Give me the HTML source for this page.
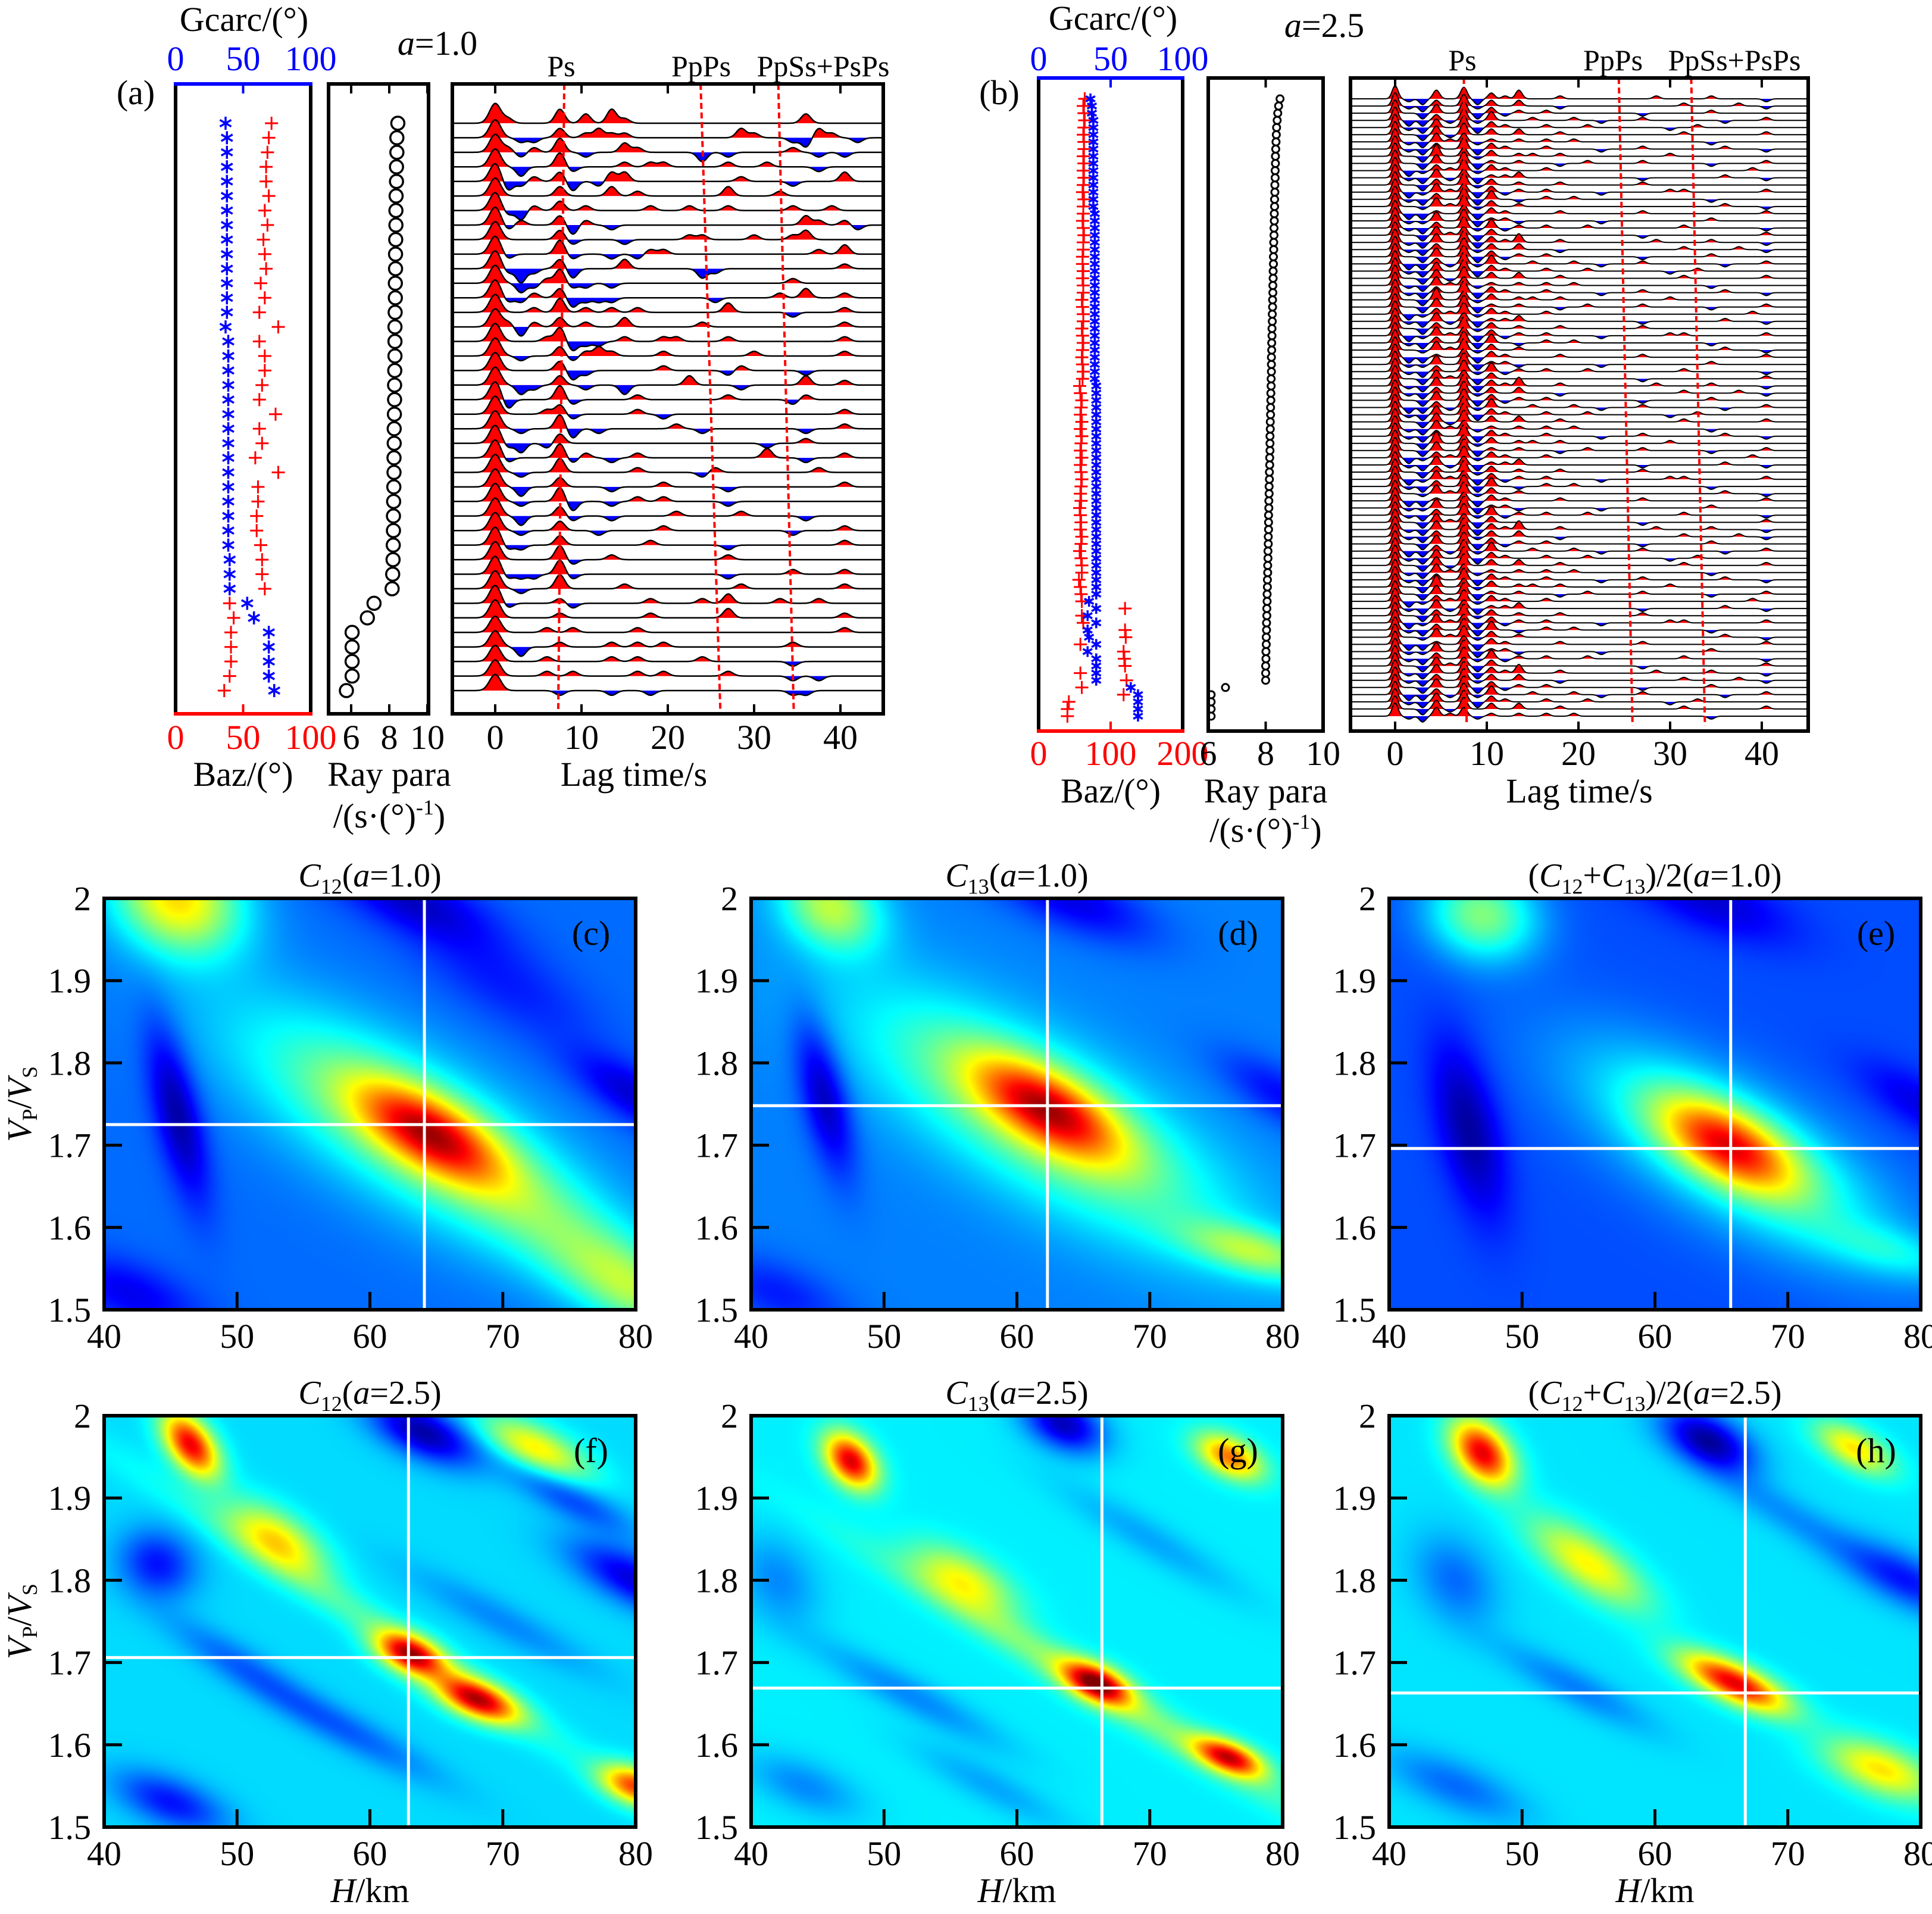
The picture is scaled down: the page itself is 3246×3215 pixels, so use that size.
<!DOCTYPE html>
<html><head><meta charset="utf-8">
<style>
html,body{margin:0;padding:0;background:#fff;}
#wrap{position:relative;width:3246px;height:3215px;overflow:hidden;background:#fff;}
canvas{position:absolute;}
svg{position:absolute;left:0;top:0;}
text{font-family:"Liberation Serif","DejaVu Serif",serif;}
</style></head>
<body>
<div id="wrap">
<svg id="svg" width="3246" height="3215" viewBox="0 0 3246 3215"></svg>
</div>
<script>
// ---------------- DATA: panel (a) ----------------
const gcarcA=[37,38,38,38,38,38,38,38,38,38,38,38,38,38,37,39,39,39,39,39,39,39,39,39,39,39,39,39,39,39,40,40,40,53,58,69,69,69,69,73];
const bazA=[71,69,68,67,67,69,66,68,65,66,67,63,66,62,76,62,66,66,64,62,74,62,64,59,76,61,61,60,60,63,64,64,66,40,43,41,41,41,40,36];
const rayA=[8.45,8.4,8.4,8.38,8.38,8.36,8.35,8.35,8.34,8.33,8.33,8.32,8.32,8.31,8.3,8.3,8.3,8.29,8.28,8.28,8.27,8.26,8.26,8.25,8.25,8.24,8.23,8.22,8.22,8.21,8.2,8.18,8.15,7.2,6.85,6.05,6.05,6.05,6.05,5.75];
const mainA=[1.1,1,1,1,1,1,1,1,1,1,1,1,1,1,1,1,1,1,1,1,1,1,1,1,1,1,1,1,1,1,1,1,1,1,1,0.9,0.9,0.9,0.9,0.9];
// amplitude codes at lag 1.5,3,4.5,...s ('5' = zero)
const rfA=[
"6555857586555555555555575555",
"5445756766555555557655437654",
"6465854557655553545555654545",
"5355845556566555565565554555",
"3465735477555555556555455575",
"5555755575655555575556555555",
"4365756555565565565555655655",
"4655736545555555555555576564",
"5555745554555566555655675555",
"4555845545466555555555556575",
"4245735557555553455555555565",
"5346844545555555555555655555",
"4465734445555555455556575565",
"5565856565655555575555455565",
"6365756557555556555555555565",
"5556834456556655565555555565",
"5455746765556555555655555565",
"5555734555556555546555545555",
"5345754553555575554555575565",
"3555845555655555565555465555",
"5556745555654555555555555565",
"5455835455555654555555545565",
"4354755555555555555545565555",
"4555846545655555555575545565",
"5455855555655554655555556555",
"5355755545556555545555555565",
"5455835545656555545555555555",
"5355745545555655556555545555",
"5455755455556555555555455565",
"4455755555565555545555555565",
"5555845565555555565555555555",
"4445845555555555545555655565",
"5455855556555555556555555565",
"4555645555565556575556556555",
"5555655555565555575555555565",
"5556565555655555555555555565",
"5355655565656555555555655555",
"5556555565655556555555455555",
"5556565555656555565555454555",
"5555455545545555555555445555"];
// ---------------- DATA: panel (b) ----------------
const gcarcB=[36,37,37,38,38,38,38,38,38,38,38,38,38,38,38,38,39,39,39,39,39,39,39,39,39,39,39,39,39,39,39,39,39,39,39,39,39,39,39,39,40,40,40,40,40,40,40,40,40,40,40,40,40,40,40,40,40,40,40,40,40,40,40,40,40,40,40,40,40,40,35,40,34,40,34,35,40,34,40,40,40,40,64,69,69,69,69];
const bazB=[64,62,63,64,63,62,63,63,62,63,62,63,62,61,63,62,62,61,62,63,62,62,61,61,62,61,62,62,60,61,62,62,60,61,62,61,60,61,62,61,57,58,60,59,58,60,58,60,59,58,60,58,59,60,59,58,59,57,58,59,58,60,59,57,59,60,60,56,58,59,60,120,60,62,120,121,58,118,119,120,58,122,60,118,42,40,40];
const rayB=[8.5,8.45,8.42,8.4,8.38,8.37,8.36,8.35,8.34,8.34,8.33,8.33,8.32,8.32,8.31,8.31,8.3,8.3,8.29,8.29,8.28,8.28,8.27,8.27,8.26,8.26,8.25,8.25,8.24,8.24,8.23,8.23,8.22,8.22,8.21,8.21,8.2,8.2,8.2,8.19,8.19,8.18,8.18,8.17,8.17,8.16,8.16,8.15,8.15,8.15,8.14,8.14,8.13,8.13,8.12,8.12,8.11,8.11,8.1,8.1,8.1,8.09,8.09,8.08,8.08,8.07,8.07,8.06,8.06,8.05,8.05,8.04,8.04,8.03,8.03,8.02,8.02,8.01,8.01,8.0,8.0,8.0,6.6,6.1,6.1,6.1,6.1];
const rfBpatterns=[
"4385937685565555556555655545",
"4375947575545555555565556545",
"5385937465655555545555655555",
"3374948556556545565555545565",
"4385937655655655555456555555",
"5384957575565555555565555565",
"4386846565656555555555455555",
"4375937655655545565555565545",
"5395847566565555555655555555",
"5385936565545655565555455565",
"3476947655655555555555555655",
"4384836675555555545555565545",
"5375947565565555565555555555",
"3486837465655545555665555565",
"4375938545656555555555455555",
"5486947565555555555555565545",
"3365837655565555565555555565",
"4485936645555545555555655555",
"4375948465655655555565555545",
"5386837555555555545555555565"];
// ---------------- DATA: heatmaps ----------------
const hmTitles=["C12(a=1.0)","C13(a=1.0)","(C12+C13)/2(a=1.0)","C12(a=2.5)","C13(a=2.5)","(C12+C13)/2(a=2.5)"];
const hmLetters=["(c)","(d)","(e)","(f)","(g)","(h)"];
const hmBase=[0.23,0.25,0.2,0.34,0.36,0.35];
const hmBestH=[64.1,62.3,65.7,62.9,66.4,66.8];
const hmBestR=[1.725,1.748,1.696,1.706,1.669,1.663];
// blobs: [H, Vp/Vs, amp, sigmaAlong, sigmaCross, angleDeg]
const blobsC=[[64.5,1.715,0.45,0.12,0.055,-40],[63,1.72,0.28,0.3,0.11,-40],[76,1.58,0.12,0.2,0.07,-40],[80,1.52,0.2,0.12,0.06,-40],[45.5,2.0,0.42,0.1,0.08,-60],[45.5,1.74,-0.2,0.15,0.03,-80],[63,2.0,-0.15,0.12,0.05,-30],[80,1.76,-0.15,0.1,0.04,-40],[42,1.52,-0.12,0.1,0.05,-30],[70,1.9,-0.08,0.15,0.06,-40]];
const blobsD=[[62.3,1.745,0.45,0.12,0.055,-40],[62,1.73,0.28,0.3,0.11,-40],[46,1.99,0.3,0.08,0.06,-60],[45.5,1.76,-0.2,0.13,0.03,-80],[64,2.0,-0.15,0.12,0.05,-30],[80,1.76,-0.12,0.1,0.04,-40],[78,1.57,0.25,0.1,0.04,-20],[42,1.52,-0.1,0.1,0.05,-30]];
const blobsE=[[65.5,1.7,0.45,0.11,0.055,-40],[66,1.69,0.26,0.25,0.1,-40],[47,1.98,0.3,0.08,0.07,-60],[46,1.72,-0.17,0.15,0.04,-80],[64,2.0,-0.12,0.12,0.05,-30],[80,1.75,-0.1,0.1,0.04,-40],[78,1.57,0.12,0.1,0.04,-20]];
const blobsF=[[46.5,1.965,0.55,0.06,0.03,-65],[53,1.85,0.3,0.08,0.04,-45],[63,1.71,0.55,0.05,0.03,-35],[68,1.655,0.55,0.06,0.03,-30],[80,1.55,0.45,0.05,0.03,-30],[72.5,1.96,0.3,0.08,0.035,-35],[64,1.98,-0.3,0.08,0.04,-35],[44,1.82,-0.2,0.06,0.05,-70],[80,1.8,-0.25,0.1,0.04,-35],[45,1.53,-0.2,0.08,0.04,-30],[75,1.9,-0.15,0.1,0.03,-35],[58,1.62,-0.12,0.15,0.03,-35],[60,1.75,0.1,0.4,0.03,-40],[50,1.7,-0.1,0.12,0.03,-40],[70,1.75,-0.08,0.15,0.03,-35]];
const blobsG=[[47.5,1.945,0.55,0.05,0.03,-65],[56,1.8,0.25,0.08,0.04,-40],[66,1.675,0.55,0.05,0.028,-35],[76,1.585,0.5,0.05,0.025,-30],[76,1.95,0.4,0.05,0.03,-40],[63.5,1.99,-0.3,0.06,0.04,-40],[42,1.8,-0.1,0.08,0.05,-70],[66,1.67,0.15,0.35,0.03,-38],[52,1.66,-0.1,0.15,0.03,-35],[44,1.55,-0.1,0.08,0.04,-30],[70,1.85,-0.07,0.15,0.03,-38],[58,1.55,-0.07,0.12,0.03,-35]];
const blobsH=[[47,1.955,0.55,0.06,0.035,-65],[55,1.82,0.28,0.1,0.04,-45],[66,1.675,0.55,0.08,0.03,-33],[77,1.57,0.3,0.08,0.04,-30],[75,1.96,0.3,0.06,0.03,-40],[64,1.97,-0.32,0.07,0.04,-40],[79,1.8,-0.2,0.1,0.04,-35],[45,1.8,-0.12,0.08,0.05,-70],[45,1.55,-0.12,0.1,0.04,-30],[54,1.67,-0.1,0.12,0.03,-35],[70,1.88,-0.08,0.14,0.03,-38]];
const hmBlobs=[blobsC,blobsD,blobsE,blobsF,blobsG,blobsH];
const hmXTicks=[40,50,60,70,80];
const hmYTicks=[1.5,1.6,1.7,1.8,1.9,2];

// ---------------- helpers ----------------
const NS="http://www.w3.org/2000/svg";
const svg=document.getElementById('svg');
const wrap=document.getElementById('wrap');
function el(tag,attrs,parent){const e=document.createElementNS(NS,tag);for(const k in attrs)e.setAttribute(k,attrs[k]);(parent||svg).appendChild(e);return e;}
function txt(x,y,s,size,anchor,fill,parent){const t=el('text',{x:x,y:y,'font-size':size,'text-anchor':anchor||'middle',fill:fill||'#000'},parent);t.textContent=s;return t;}
function G(t,c,s){const d=(t-c)/s;return Math.exp(-0.5*d*d);}

// ---------------- receiver-function panel ----------------
function rfPanel(cfg){
  const g=el('g',{});
  
  
  const B=cfg.box;
  const tx=t=>cfg.t0x+t*cfg.pxs;
  const tmin=(B.x0-cfg.t0x)/cfg.pxs, tmax=(B.x1-cfg.t0x)/cfg.pxs;
  const n=cfg.rows;
  const rowY=i=>cfg.ry0+i*(cfg.ry1-cfg.ry0)/(n-1);
  for(let i=0;i<n;i++){
    const pat=cfg.pattern(i);
    const yb=rowY(i);
    const pts=[];
    for(let t=tmin;t<=tmax+1e-6;t+=0.06){
      let f=cfg.main(i)*G(t,0,cfg.sig0);
      for(let k=0;k<29;k++){const c=pat.charAt(k);const d=c?(+c-5):0;if(d)f+=d*cfg.unit*G(t,1.5*(k+1),cfg.sig);}
      pts.push([tx(t),f*cfg.amp]);
    }
    let pos='M'+pts[0][0]+','+yb, neg=pos, line='';
    pts.forEach((p,j)=>{pos+=' L'+p[0].toFixed(1)+','+(yb-Math.max(0,p[1])).toFixed(1);neg+=' L'+p[0].toFixed(1)+','+(yb-Math.min(0,p[1])).toFixed(1);line+=(j?' L':'M')+p[0].toFixed(1)+','+(yb-p[1]).toFixed(1);});
    pos+=' L'+pts[pts.length-1][0]+','+yb+'Z';neg+=' L'+pts[pts.length-1][0]+','+yb+'Z';
    const tg=el('g',{},g);
    
    
    el('path',{d:neg,fill:'#0000ff',stroke:'none'},tg);
    el('path',{d:pos,fill:'#ff0000',stroke:'none'},tg);
    el('path',{d:line,fill:'none',stroke:'#000','stroke-width':cfg.lw},tg);
  }
  cfg.phases.forEach((p,j)=>{
    const l=el('line',{x1:tx(p[0]),y1:B.y0,x2:tx(p[1]),y2:cfg.phaseBottom,stroke:'#ff0000','stroke-width':4,'stroke-dasharray':'10,6'},g);
    
    
    const lt=txt(cfg.phaseLabelX[j],cfg.phaseLabelY,cfg.phaseNames[j],50,'middle','#000',g);
    
    
  });
  const bx=el('rect',{x:B.x0,y:B.y0,width:B.x1-B.x0,height:B.y1-B.y0,fill:'none',stroke:'#000','stroke-width':6},g);
  
  
  [0,10,20,30,40].forEach(v=>{
    el('line',{x1:tx(v),y1:B.y1,x2:tx(v),y2:B.y1-16,stroke:'#000','stroke-width':4},g);
    el('line',{x1:tx(v),y1:B.y0,x2:tx(v),y2:B.y0+16,stroke:'#000','stroke-width':4},g);
    const t=txt(tx(v),cfg.tickY,String(v),58,'middle','#000',g);
    
    
  });
  const xl=txt((B.x0+B.x1)/2+cfg.xlabDx,cfg.labY,'Lag time/s',58,'middle','#000',g);
  
  
  return rowY;
}

function star(x,y,r,parent){
  let d='';
  for(let k=0;k<3;k++){const a=Math.PI/2+k*Math.PI/3;d+='M'+(x-r*Math.cos(a))+','+(y-r*Math.sin(a))+' L'+(x+r*Math.cos(a))+','+(y+r*Math.sin(a))+' ';}
  return el('path',{d:d,stroke:'#0000ff','stroke-width':3.5,fill:'none'},parent);
}
function plus(x,y,r,parent){
  return el('path',{d:'M'+(x-r)+','+y+' L'+(x+r)+','+y+' M'+x+','+(y-r)+' L'+x+','+(y+r),stroke:'#ff0000','stroke-width':3,fill:'none'},parent);
}

function scatterPanels(cfg,rowY){
  const g=el('g',{});
  
  
  const b=cfg.baz;
  const bx=v=>b.x0+(v-b.bmin)/(b.bmax-b.bmin)*(b.x1-b.x0);
  const gx=v=>b.x0+(v-0)/(100)*(b.x1-b.x0);
  cfg.bazV.forEach((v,i)=>{const m=plus(bx(v),rowY(i),cfg.plusR,g);});
  cfg.gcV.forEach((v,i)=>{const m=star(gx(v),rowY(i),cfg.starR,g);});
  el('line',{x1:b.x0,y1:b.y0,x2:b.x0,y2:b.y1,stroke:'#000','stroke-width':6},g);
  el('line',{x1:b.x1,y1:b.y0,x2:b.x1,y2:b.y1,stroke:'#000','stroke-width':6},g);
  el('line',{x1:b.x0-3,y1:b.y0,x2:b.x1+3,y2:b.y0,stroke:'#0000ff','stroke-width':6},g);
  el('line',{x1:b.x0-3,y1:b.y1,x2:b.x1+3,y2:b.y1,stroke:'#ff0000','stroke-width':6},g);
  const mid=(b.x0+b.x1)/2;
  el('line',{x1:mid,y1:b.y0,x2:mid,y2:b.y0+16,stroke:'#0000ff','stroke-width':4},g);
  el('line',{x1:mid,y1:b.y1,x2:mid,y2:b.y1-16,stroke:'#ff0000','stroke-width':4},g);
  cfg.bazTicks.forEach((s,j)=>{const t=txt(b.x0+j*(b.x1-b.x0)/2,cfg.tickY,s,58,'middle','#ff0000',g);});
  ['0','50','100'].forEach((s,j)=>{const t=txt(b.x0+j*(b.x1-b.x0)/2,cfg.topTickY,s,58,'middle','#0000ff',g);});
  const gt=txt(cfg.gcTitleX,cfg.gcTitleY,'Gcarc/(°)',58,'middle','#000',g);
  const bt=txt(mid,cfg.labY,'Baz/(°)',58,'middle','#000',g);
  const r=cfg.ray;
  const g2=el('g',{});
  
  
  const rx=v=>r.px6+(v-6)*r.ppu;
  cfg.rayV.forEach((v,i)=>{const c=el('circle',{cx:rx(v),cy:rowY(i),r:cfg.circR,fill:'none',stroke:'#000','stroke-width':cfg.circW},g2);});
  el('rect',{x:r.x0,y:b.y0,width:r.x1-r.x0,height:b.y1-b.y0,fill:'none',stroke:'#000','stroke-width':6},g2);
  [6,8,10].forEach(v=>{el('line',{x1:rx(v),y1:b.y1,x2:rx(v),y2:b.y1-16,stroke:'#000','stroke-width':4},g2);el('line',{x1:rx(v),y1:b.y0,x2:rx(v),y2:b.y0+16,stroke:'#000','stroke-width':4},g2);
    const t=txt(rx(v),cfg.tickY,String(v),58,'middle','#000',g2);});
  const rt=txt((r.x0+r.x1)/2+cfg.rayLabDx,cfg.labY,'Ray para',58,'middle','#000',g2);
  const ru=el('text',{x:(r.x0+r.x1)/2+cfg.rayLabDx,y:cfg.labY2,'font-size':58,'text-anchor':'middle'},g2);
  
  
  ru.innerHTML='/(s·(°)<tspan dy="-22" font-size="36">-1</tspan><tspan dy="22">)</tspan>';
  const pl=txt(cfg.letterX,cfg.letterY,cfg.letter,58,'middle','#000');
  const at=el('text',{x:cfg.aX,y:cfg.aY,'font-size':58,'text-anchor':'middle'});
  
  
  at.innerHTML='<tspan font-style="italic">a</tspan>='+cfg.aVal;
}

// Panel (a)
const rowYA=rfPanel({name:'panel-a-receiver-functions',box:{x0:760,x1:1484,y0:141,y1:1199},t0x:832,pxs:14.5,rows:40,ry0:207,ry1:1160,
  pattern:i=>rfA[i],main:i=>mainA[i],sig0:0.65,sig:0.55,unit:0.26,amp:30,lw:2.5,
  phases:[[8.0,7.3],[23.8,26.1],[32.8,34.6]],phaseBottom:1199,phaseNames:['Ps','PpPs','PpSs+PsPs'],phaseLabelX:[943,1178,1383],phaseLabelY:128,
  tickY:1258,labY:1320,xlabDx:-57});
scatterPanels({name:'panel-a',baz:{x0:295,x1:522,y0:141,y1:1199,bmin:0,bmax:100},bazV:bazA,gcV:gcarcA,rayV:rayA,plusR:11,starR:11,circR:11,circW:3.5,
  ray:{x0:552,x1:720,px6:590,ppu:32},bazTicks:['0','50','100'],tickY:1258,topTickY:118,gcTitleX:410,gcTitleY:52,labY:1320,labY2:1390,rayLabDx:18,
  letter:'(a)',letterX:228,letterY:175,aX:735,aY:92,aVal:'1.0'},rowYA);

// Panel (b)
const rowYB=rfPanel({name:'panel-b-receiver-functions',box:{x0:2269,x1:3038,y0:131,y1:1228},t0x:2344,pxs:15.4,rows:gcarcB.length,ry0:166,ry1:1203,
  pattern:i=>rfBpatterns[i%rfBpatterns.length],main:i=>1,sig0:0.32,sig:0.35,unit:0.22,amp:22,lw:2,
  phases:[[7.5,7.8],[24.4,25.9],[32.3,33.8]],phaseBottom:1219,phaseNames:['Ps','PpPs','PpSs+PsPs'],phaseLabelX:[2457,2710,2914],phaseLabelY:118,
  tickY:1285,labY:1348,xlabDx:0});
scatterPanels({name:'panel-b',baz:{x0:1745,x1:1987,y0:131,y1:1228,bmin:0,bmax:200},bazV:bazB,gcV:gcarcB,rayV:rayB,plusR:11,starR:9,circR:6,circW:3,
  ray:{x0:2030,x1:2223,px6:2030,ppu:48.25},bazTicks:['0','100','200'],tickY:1285,topTickY:118,gcTitleX:1870,gcTitleY:50,labY:1348,labY2:1414,rayLabDx:0,
  letter:'(b)',letterX:1679,letterY:175,aX:2225,aY:62,aVal:'2.5'},rowYB);

// ---------------- heatmaps ----------------
const colX=[175,1262,2334], rowTop=[1509,2378], HW=893, HH=691;
function jet(v){v=Math.max(0,Math.min(1,v));const c=x=>Math.max(0,Math.min(1,x));
  return [c(Math.min(4*v-1.5,-4*v+4.5)),c(Math.min(4*v-0.5,-4*v+3.5)),c(Math.min(4*v+0.5,-4*v+2.5))];}
for(let p=0;p<6;p++){
  const x0=colX[p%3], y0=rowTop[Math.floor(p/3)];
  const cv=document.createElement('canvas');
  const CW=300,CH=232;
  cv.width=CW;cv.height=CH;
  cv.style.left=x0+'px';cv.style.top=y0+'px';cv.style.width=HW+'px';cv.style.height=HH+'px';
  
  
  wrap.insertBefore(cv,svg);
  const ctx=cv.getContext('2d');const img=ctx.createImageData(CW,CH);
  const bl=hmBlobs[p].map(b=>{const a=b[5]*Math.PI/180;return {u:(b[0]-40)/40,v:(b[1]-1.5)/0.5,amp:b[2],sa:b[3],sc:b[4],ca:Math.cos(a),sn:Math.sin(a)};});
  for(let j=0;j<CH;j++){const v=1-(j+0.5)/CH;
    for(let i=0;i<CW;i++){const u=(i+0.5)/CW;let val=hmBase[p];
      for(const b of bl){const du=u-b.u,dv=v-b.v;const al=du*b.ca+dv*b.sn, cr=-du*b.sn+dv*b.ca;val+=b.amp*Math.exp(-0.5*(al*al/(b.sa*b.sa)+cr*cr/(b.sc*b.sc)));}
      const c=jet(val);const k=(j*CW+i)*4;img.data[k]=c[0]*255;img.data[k+1]=c[1]*255;img.data[k+2]=c[2]*255;img.data[k+3]=255;}}
  ctx.putImageData(img,0,0);
  const g=el('g',{});
  
  
  const X=h=>x0+(h-40)/40*HW, Y=r=>y0+HH-(r-1.5)/0.5*HH;
  const vl=el('line',{x1:X(hmBestH[p]),y1:y0,x2:X(hmBestH[p]),y2:y0+HH,stroke:'#fff','stroke-width':5},g);
  
  const hl=el('line',{x1:x0,y1:Y(hmBestR[p]),x2:x0+HW,y2:Y(hmBestR[p]),stroke:'#fff','stroke-width':5},g);
  
  el('rect',{x:x0,y:y0,width:HW,height:HH,fill:'none',stroke:'#000','stroke-width':6},g);
  hmXTicks.forEach(h=>{if(h>40&&h<80)el('line',{x1:X(h),y1:y0+HH,x2:X(h),y2:y0+HH-30,stroke:'#000','stroke-width':5},g);
    const t=txt(X(h),y0+HH+64,String(h),58,'middle','#000',g);});
  hmYTicks.forEach(r=>{if(r>1.5&&r<2)el('line',{x1:x0,y1:Y(r),x2:x0+30,y2:Y(r),stroke:'#000','stroke-width':5},g);
    const t=txt(x0-22,Y(r)+20,String(r),58,'end','#000',g);});
  const lt=txt(x0+HW-75,y0+78,hmLetters[p],58,'middle','#000',g);
  const tt=el('text',{x:x0+HW/2,y:y0-20,'font-size':56,'text-anchor':'middle'},g);
  
  const s=hmTitles[p];const aval=s.match(/a=([\d.]+)/)[1];
  const C=n=>'<tspan font-style="italic">C</tspan><tspan font-size="36" dy="12">'+n+'</tspan><tspan dy="-12">';
  if(s.startsWith('(')) tt.innerHTML='('+C('12')+'+</tspan>'+C('13')+')/2(</tspan><tspan font-style="italic">a</tspan>='+aval+')';
  else tt.innerHTML=C(s.slice(1,3))+'(</tspan><tspan font-style="italic">a</tspan>='+aval+')';
  if(p%3===0){
    const yl=el('text',{x:0,y:0,'font-size':58,'text-anchor':'middle',transform:'translate(52,'+(y0+HH/2)+') rotate(-90)'},g);
    
    yl.innerHTML='<tspan font-style="italic">V</tspan><tspan font-size="36" dy="10">P</tspan><tspan dy="-10">/</tspan><tspan font-style="italic">V</tspan><tspan font-size="36" dy="10">S</tspan>';
  }
  if(p>=3){
    const xl=el('text',{x:x0+HW/2,y:3195,'font-size':58,'text-anchor':'middle'},g);
    
    xl.innerHTML='<tspan font-style="italic">H</tspan>/km';
  }
}
</script>
</body></html>
